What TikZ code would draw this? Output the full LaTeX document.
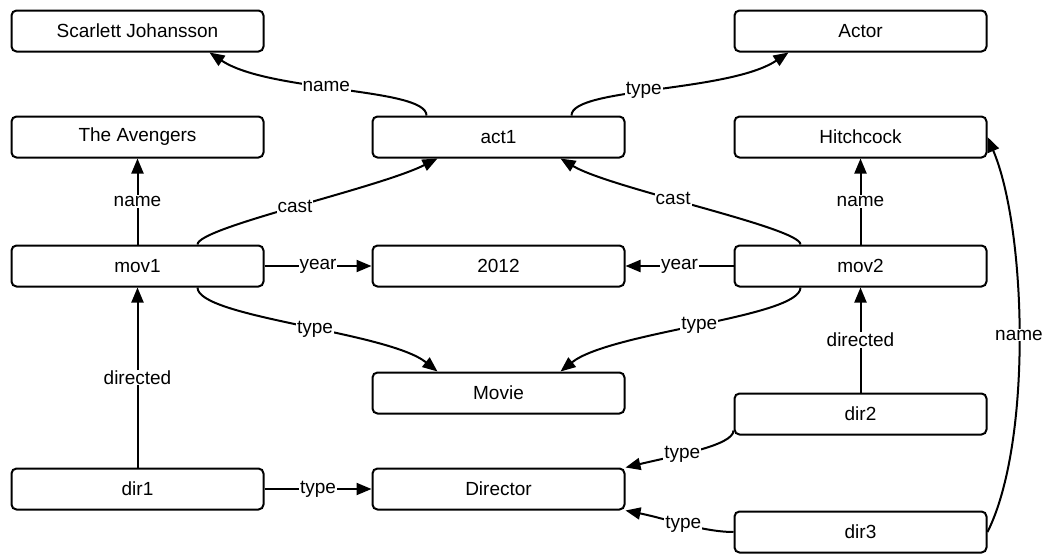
\documentclass[tikz,border=0pt]{standalone}
\usepackage{fontspec}
\setmainfont{Liberation Sans}
\usetikzlibrary{calc,arrows.meta}

\begin{document}
\begin{tikzpicture}[x=1pt,y=-1pt,
  every node/.style={font=\fontsize{19}{22}\selectfont},
  box/.style={shape=rectangle, rounded corners=5pt, draw, line width=2pt,
    minimum width=252pt, minimum height=41pt, inner sep=0pt},
  link/.style={line width=2pt, -{Triangle[length=15pt,width=12pt]}},
  lbl/.style={fill=white, inner sep=1pt}]
\useasboundingbox (0,0) rectangle (1047,554);

% left column
\path (137.5,31) node (scar) [box] {Scarlett Johansson};
\path (137.5,137) node (aveng) [box] {The Avengers};
\path (137.5,266) node (mov1) [box] {mov1};
\path (137.5,489) node (dir1) [box] {dir1};

% middle column
\path (498.5,137) node (act1) [box] {act1};
\path (498.5,266) node (y2012) [box] {2012};
\path (498.5,393) node (movie) [box] {Movie};
\path (498.5,489) node (director) [box] {Director};

% right column
\path (860.5,31) node (actor) [box] {Actor};
\path (860.5,137) node (hitch) [box] {Hitchcock};
\path (860.5,266) node (mov2) [box] {mov2};
\path (860.5,414) node (dir2) [box] {dir2};
\path (860.5,532) node (dir3) [box] {dir3};

\draw [link] ($(act1.north)+(-72,0)$) .. controls +(0,-28) and +(60,40) .. node[lbl,pos=0.55] {name} ($(scar.south)+(72,0)$);
\draw [link] ($(act1.north)+(73,0)$) .. controls +(0,-28) and +(-60,40) .. node[lbl,pos=0.45] {type} ($(actor.south)+(-72,0)$);

\draw [link] (mov1) -- node[lbl] {name} (aveng);
\draw [link] (mov2) -- node[lbl] {name} (hitch);
\draw [link] ($(mov1.north)+(60,0)$) .. controls +(0,-17) and +(-60,30) .. node[lbl] {cast} ($(act1.south)+(-61,0)$);
\draw [link] ($(mov2.north)+(-60,0)$) .. controls +(0,-17) and +(50,30) .. node[lbl,pos=0.58] {cast} ($(act1.south)+(62,0)$);

\draw [link] (mov1) -- node[lbl] {year} (y2012);
\draw [link] (mov2) -- node[lbl] {year} (y2012);

\draw [link] ($(mov1.south)+(60,0)$) .. controls +(0,30) and +(-50,-40) .. node[lbl,pos=0.55] {type} ($(movie.north)+(-61,0)$);
\draw [link] ($(mov2.south)+(-60,0)$) .. controls +(0,30) and +(50,-40) .. node[lbl] {type} ($(movie.north)+(62,0)$);

\draw [link] (dir1) -- node[lbl] {directed} (mov1);
\draw [link] (dir2) -- node[lbl] {directed} (mov2);
\draw [link] (dir1) -- node[lbl] {type} (director);

\draw [link] ($(dir2.south west)+(0,-5)$) .. controls +(0,15) and +(50,-12) .. node[lbl,pos=0.62] {type} (director.north east);
\draw [link] (dir3.west) .. controls +(-30,0) and +(40,8) .. node[lbl] {type} (director.south east);
\draw [link] (dir3.east) .. controls +(45,-90) and +(39,92) .. node[lbl] {name} (hitch.east);

\end{tikzpicture}
\end{document}
